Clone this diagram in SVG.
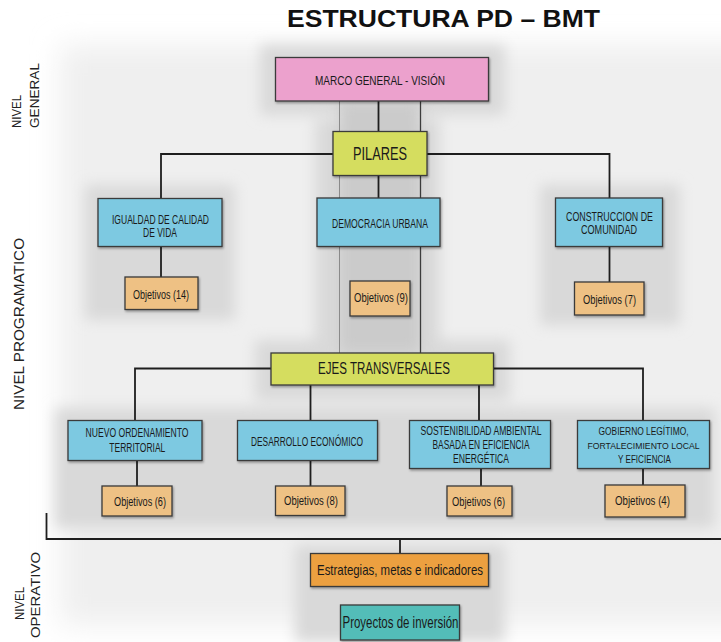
<svg xmlns="http://www.w3.org/2000/svg" width="721" height="642" viewBox="0 0 721 642">
<style>
.box{stroke:#3a3a3a;stroke-width:1.3}
.t{font-family:"Liberation Sans",Arial,sans-serif;fill:#1a1a1a;text-anchor:middle}
.c{font-size:12.5px}
.g{font-size:10.5px}
.o{font-size:13px}
.side{font-family:"Liberation Sans",Arial,sans-serif;fill:#222;font-size:12px}
.ln{stroke:#1e1e1e;stroke-width:1.8;fill:none}
.lg{stroke:#8a8a8a;stroke-width:1;fill:none}
.ld{stroke:#3c3c3c;stroke-width:1.3;fill:none}
</style>
<defs>
<filter id="blur" x="-20%" y="-20%" width="140%" height="140%"><feGaussianBlur stdDeviation="14"/></filter>
<filter id="blur2" x="-30%" y="-30%" width="160%" height="160%"><feGaussianBlur stdDeviation="7"/></filter>
<filter id="sh" x="-10%" y="-10%" width="130%" height="140%"><feDropShadow dx="1" dy="1.5" stdDeviation="0.8" flood-color="#000" flood-opacity="0.35"/></filter>
</defs>
<rect width="721" height="642" fill="#ffffff"/>
<g id="background">
<rect x="60" y="45" width="700" height="580" fill="#efefef" filter="url(#blur)"/>
<g filter="url(#blur2)" fill="#d9d9d9">
<rect x="260" y="45" width="245" height="70"/>
<rect x="315" y="120" width="125" height="240"/>
<rect x="85" y="185" width="150" height="135"/>
<rect x="540" y="185" width="140" height="140"/>
<rect x="255" y="340" width="255" height="60"/>
<rect x="55" y="408" width="660" height="120"/>
<rect x="295" y="545" width="210" height="97"/>
</g>
<rect x="340" y="101" width="80" height="252" fill="#cbcbcb" filter="url(#blur2)"/>
</g>
<g id="connectors">
<line class="lg" x1="339.5" y1="101" x2="339.5" y2="353"/>
<line class="ld" x1="420.5" y1="101" x2="420.5" y2="353"/>
<line class="ln" x1="378.5" y1="101" x2="378.5" y2="198"/>
<polyline class="ln" points="161,198 161,154 609.5,154 609.5,198"/>
<line class="ln" x1="161" y1="247" x2="161" y2="277"/>
<line class="ln" x1="609.5" y1="246" x2="609.5" y2="282"/>
<polyline class="ln" points="135,420 135,368.5 643,368.5 643,420"/>
<line class="ln" x1="310.5" y1="385" x2="310.5" y2="420"/>
<line class="ln" x1="479" y1="385" x2="479" y2="420"/>
<line class="ln" x1="137" y1="460" x2="137" y2="486"/>
<line class="ln" x1="310.5" y1="460" x2="310.5" y2="486"/>
<line class="ln" x1="481" y1="468" x2="481" y2="486"/>
<line class="ln" x1="643" y1="468" x2="643" y2="485"/>
<polyline class="ln" points="46.5,513 46.5,539 721,539"/>
<line class="ln" x1="400" y1="539" x2="400" y2="553"/>
</g>
<text x="443.5" y="27" font-family="'Liberation Sans',Arial,sans-serif" font-weight="bold" font-size="24" text-anchor="middle" fill="#111" textLength="313" lengthAdjust="spacingAndGlyphs">ESTRUCTURA PD – BMT</text>
<g id="side-labels">
<text class="side" transform="translate(21,128) rotate(-90)" textLength="33" lengthAdjust="spacingAndGlyphs">NIVEL</text>
<text class="side" transform="translate(39,128) rotate(-90)" textLength="65" lengthAdjust="spacingAndGlyphs">GENERAL</text>
<text class="side" style="font-size:14px" transform="translate(24,410) rotate(-90)" textLength="172" lengthAdjust="spacingAndGlyphs">NIVEL PROGRAMATICO</text>
<text class="side" transform="translate(24,620) rotate(-90)" textLength="33" lengthAdjust="spacingAndGlyphs">NIVEL</text>
<text class="side" transform="translate(40,638) rotate(-90)" textLength="86" lengthAdjust="spacingAndGlyphs">OPERATIVO</text>
</g>
<g id="marco"><rect class="box" x="275.5" y="57.5" width="213" height="43.5" fill="#eca1cd" filter="url(#sh)"/><text class="t" x="380" y="85" font-size="13.5" textLength="130" lengthAdjust="spacingAndGlyphs">MARCO GENERAL - VISIÓN</text></g>
<g id="pilares"><rect class="box" x="333" y="131.5" width="94" height="44" fill="#d5dd5f" filter="url(#sh)"/><text class="t" x="380" y="160" font-size="18" textLength="54" lengthAdjust="spacingAndGlyphs">PILARES</text></g>
<g id="igualdad"><rect class="box" x="98" y="198.5" width="124" height="48" fill="#7dc9e1" filter="url(#sh)"/><text class="t c" x="160.5" y="224" textLength="97" lengthAdjust="spacingAndGlyphs">IGUALDAD DE CALIDAD</text><text class="t c" x="160" y="237" textLength="34" lengthAdjust="spacingAndGlyphs">DE VIDA</text></g>
<g id="democracia"><rect class="box" x="317" y="198" width="123" height="48.5" fill="#7dc9e1" filter="url(#sh)"/><text class="t c" x="380" y="227.5" textLength="96" lengthAdjust="spacingAndGlyphs">DEMOCRACIA URBANA</text></g>
<g id="construccion"><rect class="box" x="555.5" y="198" width="107" height="48.5" fill="#7dc9e1" filter="url(#sh)"/><text class="t c" x="609.5" y="220.5" textLength="87" lengthAdjust="spacingAndGlyphs">CONSTRUCCION DE</text><text class="t c" x="609" y="233.5" textLength="56" lengthAdjust="spacingAndGlyphs">COMUNIDAD</text></g>
<g id="obj14"><rect class="box" x="125" y="277" width="73" height="32.5" fill="#eec184" filter="url(#sh)"/><text class="t o" x="161" y="299" textLength="56" lengthAdjust="spacingAndGlyphs">Objetivos (14)</text></g>
<g id="obj9"><rect class="box" x="350" y="281" width="60" height="35" fill="#eec184" filter="url(#sh)"/><text class="t o" x="381" y="302" textLength="54" lengthAdjust="spacingAndGlyphs">Objetivos (9)</text></g>
<g id="obj7"><rect class="box" x="574.5" y="282" width="69.5" height="33" fill="#eec184" filter="url(#sh)"/><text class="t o" x="609.5" y="304" textLength="53" lengthAdjust="spacingAndGlyphs">Objetivos (7)</text></g>
<g id="ejes"><rect class="box" x="271" y="353" width="222.5" height="32" fill="#d5dd5f" filter="url(#sh)"/><text class="t" x="384" y="374" font-size="16" textLength="132" lengthAdjust="spacingAndGlyphs">EJES TRANSVERSALES</text></g>
<g id="nuevo"><rect class="box" x="68" y="420.5" width="134" height="40" fill="#7dc9e1" filter="url(#sh)"/><text class="t c" x="137" y="436.5" textLength="103" lengthAdjust="spacingAndGlyphs">NUEVO ORDENAMIENTO</text><text class="t c" x="137.3" y="451.5" textLength="56" lengthAdjust="spacingAndGlyphs">TERRITORIAL</text></g>
<g id="desarrollo"><rect class="box" x="237.5" y="420.5" width="140" height="40" fill="#7dc9e1" filter="url(#sh)"/><text class="t c" x="307" y="446" textLength="112" lengthAdjust="spacingAndGlyphs">DESARROLLO ECONÓMICO</text></g>
<g id="sostenibilidad"><rect class="box" x="409.5" y="420.5" width="141" height="48" fill="#7dc9e1" filter="url(#sh)"/><text class="t c" x="481" y="435" textLength="121" lengthAdjust="spacingAndGlyphs">SOSTENIBILIDAD AMBIENTAL</text><text class="t c" x="481" y="449" textLength="97" lengthAdjust="spacingAndGlyphs">BASADA EN EFICIENCIA</text><text class="t c" x="481" y="463" textLength="56" lengthAdjust="spacingAndGlyphs">ENERGÉTICA</text></g>
<g id="gobierno"><rect class="box" x="577.5" y="420.5" width="132" height="48" fill="#7dc9e1" filter="url(#sh)"/><text class="t g" x="643.5" y="435" textLength="90" lengthAdjust="spacingAndGlyphs">GOBIERNO LEGÍTIMO,</text><text class="t" font-size="9.5" x="643.5" y="449" textLength="112" lengthAdjust="spacingAndGlyphs">FORTALECIMIENTO LOCAL</text><text class="t g" x="644.5" y="463" textLength="53" lengthAdjust="spacingAndGlyphs">Y EFICIENCIA</text></g>
<g id="obj6a"><rect class="box" x="102" y="486" width="70" height="30" fill="#eec184" filter="url(#sh)"/><text class="t o" x="140" y="505.5" textLength="52" lengthAdjust="spacingAndGlyphs">Objetivos (6)</text></g>
<g id="obj8"><rect class="box" x="275.5" y="486" width="69.5" height="29.5" fill="#eec184" filter="url(#sh)"/><text class="t o" x="311" y="504.5" textLength="54" lengthAdjust="spacingAndGlyphs">Objetivos (8)</text></g>
<g id="obj6b"><rect class="box" x="447" y="486" width="65" height="30" fill="#eec184" filter="url(#sh)"/><text class="t o" x="478.5" y="505.5" textLength="53" lengthAdjust="spacingAndGlyphs">Objetivos (6)</text></g>
<g id="obj4"><rect class="box" x="605" y="485" width="80" height="32" fill="#eec184" filter="url(#sh)"/><text class="t o" x="642.5" y="504.5" textLength="55" lengthAdjust="spacingAndGlyphs">Objetivos (4)</text></g>
<g id="estrategias"><rect class="box" x="310.5" y="553.5" width="178" height="33" fill="#eca040" filter="url(#sh)"/><text class="t" x="400" y="574.5" font-size="15" textLength="166" lengthAdjust="spacingAndGlyphs">Estrategias, metas e indicadores</text></g>
<g id="proyectos"><rect class="box" x="340.5" y="605" width="119" height="35" fill="#52bdb8" filter="url(#sh)"/><text class="t" x="400.5" y="627.5" font-size="16" textLength="116" lengthAdjust="spacingAndGlyphs">Proyectos de inversión</text></g>
</svg>
